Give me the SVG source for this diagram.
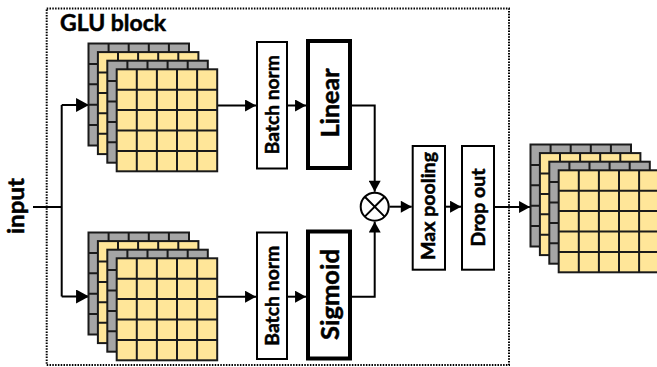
<svg xmlns="http://www.w3.org/2000/svg" xmlns:xlink="http://www.w3.org/1999/xlink" width="657" height="367" viewBox="0 0 657 367">
<style>
  .lbl { font-family: Lato, "Open Sans", "Liberation Sans", sans-serif; font-weight: bold; fill: #000; stroke: #000; stroke-width: 0.5; }
  .box { fill: #fff; stroke: #000; stroke-width: 2; }
  .thick { fill: #fff; stroke: #000; stroke-width: 4; }
  .wire { fill: none; stroke: #000; stroke-width: 2; }
  .gray { fill: #a5a5a5; stroke: #1a1a1a; stroke-width: 2; }
  .yel { fill: #ffe699; stroke: #1a1a1a; stroke-width: 2; }
  .grid { fill: none; stroke: #1a1a1a; stroke-width: 2; }
</style>
<defs>
  <marker id="arr" markerUnits="userSpaceOnUse" markerWidth="12" markerHeight="12" viewBox="0 0 10 11" refX="10" refY="5.5" orient="auto">
    <path d="M0,0 L10,5.5 L0,11 Z" fill="#000"/>
  </marker>
  <marker id="arrL" markerUnits="userSpaceOnUse" markerWidth="14" markerHeight="14" viewBox="0 0 12 13" refX="12" refY="6.5" orient="auto">
    <path d="M0,0 L12,6.5 L0,13 Z" fill="#000"/>
  </marker>
  <g id="layerG">
    <rect class="gray" x="0" y="0" width="100.5" height="102"/>
    <path class="grid" d="M20.1,0V102M40.2,0V102M60.3,0V102M80.4,0V102M0,20.4H100.5M0,40.8H100.5M0,61.2H100.5M0,81.6H100.5"/>
  </g>
  <g id="layerY">
    <rect class="yel" x="0" y="0" width="100.5" height="102"/>
    <path class="grid" d="M20.1,0V102M40.2,0V102M60.3,0V102M80.4,0V102M0,20.4H100.5M0,40.8H100.5M0,61.2H100.5M0,81.6H100.5"/>
  </g>
  <g id="stack">
    <use xlink:href="#layerG" x="0" y="0"/>
    <use xlink:href="#layerY" x="9.4" y="8.6"/>
    <use xlink:href="#layerG" x="18.8" y="17.2"/>
    <use xlink:href="#layerY" x="28.2" y="25.8"/>
  </g>
</defs>

<rect id="glu-block" x="46.7" y="8.5" width="462.3" height="356.5" fill="none" stroke="#000" stroke-width="2" stroke-dasharray="1.5 1.3"/>
<text class="lbl" x="60" y="30.7" font-size="22" textLength="106" lengthAdjust="spacingAndGlyphs">GLU block</text>

<g id="connectors">
  <path class="wire" d="M33,207H61.7"/>
  <path class="wire" d="M61.7,105V296.5"/>
  <path class="wire" d="M61.7,105H89" marker-end="url(#arrL)"/>
  <path class="wire" d="M61.7,296.5H89" marker-end="url(#arrL)"/>
  <path class="wire" d="M217,105.5H256" marker-end="url(#arr)"/>
  <path class="wire" d="M288,105.5H306" marker-end="url(#arr)"/>
  <path class="wire" d="M351,105.5H374.7V191.7" marker-end="url(#arr)"/>
  <path class="wire" d="M217,296.7H256" marker-end="url(#arr)"/>
  <path class="wire" d="M288,296.7H306" marker-end="url(#arr)"/>
  <path class="wire" d="M351,296.7H374.7V221.7" marker-end="url(#arr)"/>
  <path class="wire" d="M389.5,206.7H411.7" marker-end="url(#arr)"/>
  <path class="wire" d="M446,206.7H461" marker-end="url(#arr)"/>
  <path class="wire" d="M495,207H530" marker-end="url(#arr)"/>
</g>

<g id="input">
  <text class="lbl" transform="translate(24,206) rotate(-90)" x="0" y="0" font-size="22" text-anchor="middle" textLength="56" lengthAdjust="spacingAndGlyphs">input</text>
</g>

<g id="stack-top"><use xlink:href="#stack" transform="translate(88.5,43.5)"/></g>
<g id="stack-bottom"><use xlink:href="#stack" transform="translate(88.5,232.5)"/></g>

<g id="bn-top">
  <rect class="box" x="257" y="42" width="30" height="126.5"/>
  <text class="lbl" transform="translate(278.5,104.7) rotate(-90)" font-size="19.5" text-anchor="middle" textLength="99" lengthAdjust="spacingAndGlyphs">Batch norm</text>
</g>
<g id="bn-bottom">
  <rect class="box" x="257" y="232.5" width="30" height="126.5"/>
  <text class="lbl" transform="translate(278.5,295.7) rotate(-90)" font-size="19.5" text-anchor="middle" textLength="100" lengthAdjust="spacingAndGlyphs">Batch norm</text>
</g>
<g id="linear">
  <rect class="thick" x="308" y="41" width="42" height="127"/>
  <text class="lbl" transform="translate(338.5,103) rotate(-90)" font-size="25" text-anchor="middle" textLength="69" lengthAdjust="spacingAndGlyphs">Linear</text>
</g>
<g id="sigmoid">
  <rect class="thick" x="308" y="231.5" width="42" height="127"/>
  <text class="lbl" transform="translate(338.5,294.5) rotate(-90)" font-size="25" text-anchor="middle" textLength="91" lengthAdjust="spacingAndGlyphs">Sigmoid</text>
</g>
<g id="multiply">
  <circle cx="374.7" cy="206.7" r="14" fill="#fff" stroke="#000" stroke-width="2"/>
  <path d="M364.8,196.8L384.6,216.6M384.6,196.8L364.8,216.6" stroke="#000" stroke-width="2"/>
</g>
<g id="max-pooling">
  <rect class="box" x="412.7" y="146" width="32.3" height="123.7"/>
  <text class="lbl" transform="translate(435,206) rotate(-90)" font-size="19.5" text-anchor="middle" textLength="108" lengthAdjust="spacingAndGlyphs">Max pooling</text>
</g>
<g id="drop-out">
  <rect class="box" x="462" y="146" width="32" height="123.7"/>
  <text class="lbl" transform="translate(484.5,207.5) rotate(-90)" font-size="19.5" text-anchor="middle" textLength="78" lengthAdjust="spacingAndGlyphs">Drop out</text>
</g>
<g id="stack-out"><use xlink:href="#stack" transform="translate(530.5,144.5)"/></g>
</svg>
